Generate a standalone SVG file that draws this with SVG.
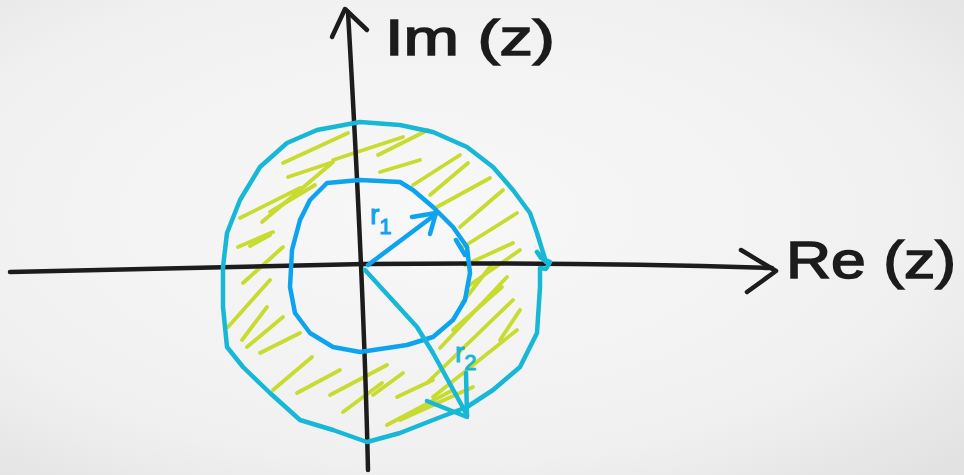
<svg xmlns="http://www.w3.org/2000/svg" width="964" height="475" viewBox="0 0 964 475">
<defs>
<radialGradient id="bg" cx="0.45" cy="0.45" r="0.75">
<stop offset="0" stop-color="#f8f8f8"/>
<stop offset="0.7" stop-color="#f0f0f0"/>
<stop offset="1" stop-color="#e2e2e2"/>
</radialGradient>
<style>
.ax{fill:none;stroke:#1c1c1c;stroke-width:4.5;stroke-linecap:round;stroke-linejoin:round}
.outer{fill:none;stroke:#17b7d6;stroke-width:4.5;stroke-linecap:round;stroke-linejoin:round}
.inner{fill:none;stroke:#0ea3ef;stroke-width:4.5;stroke-linecap:round;stroke-linejoin:round}
.h{fill:none;stroke:#c8db2f;stroke-width:3.8;stroke-linecap:round}
.lbl{font-family:"Liberation Sans","DejaVu Sans",sans-serif;fill:#1c1c1c;stroke:#1c1c1c;stroke-width:1.5}
.r1{font-family:"Liberation Sans","DejaVu Sans",sans-serif;fill:#0ea3ef;stroke:#0ea3ef;stroke-width:1}
.r2{font-family:"Liberation Sans","DejaVu Sans",sans-serif;fill:#17b7d6;stroke:#17b7d6;stroke-width:1}
</style>
</defs>
<rect width="964" height="475" fill="url(#bg)"/>

<g id="hatching">
<path class="h" d="M283,163 L348,133"/>
<path class="h" d="M288,177 L333,162"/>
<path class="h" d="M240,218 L300,188"/>
<path class="h" d="M262,222 L332,163"/>
<path class="h" d="M270,212 L315,185"/>
<path class="h" d="M238,247 L273,232"/>
<path class="h" d="M250,246 L270,235"/>
<path class="h" d="M333,160 L403,137"/>
<path class="h" d="M378,155 L428,130"/>
<path class="h" d="M380,172 L420,160"/>
<path class="h" d="M413,185 L460,155"/>
<path class="h" d="M430,195 L468,163"/>
<path class="h" d="M437,207 L490,178"/>
<path class="h" d="M460,227 L503,190"/>
<path class="h" d="M463,247 L517,213"/>
<path class="h" d="M465,265 L513,243"/>
<path class="h" d="M462,303 L493,263"/>
<path class="h" d="M467,287 L520,250"/>
<path class="h" d="M440,348 L507,277"/>
<path class="h" d="M453,330 L502,287"/>
<path class="h" d="M500,340 L520,310"/>
<path class="h" d="M427,383 L513,300"/>
<path class="h" d="M433,397 L517,330"/>
<path class="h" d="M387,425 L453,390"/>
<path class="h" d="M400,420 L473,387"/>
<path class="h" d="M397,397 L433,380"/>
<path class="h" d="M343,412 L382,383"/>
<path class="h" d="M330,395 L387,365"/>
<path class="h" d="M297,393 L340,370"/>
<path class="h" d="M273,390 L312,357"/>
<path class="h" d="M260,353 L300,333"/>
<path class="h" d="M247,347 L283,317"/>
<path class="h" d="M242,340 L267,307"/>
<path class="h" d="M228,327 L270,280"/>
<path class="h" d="M243,283 L283,247"/>
<path class="h" d="M373,395 L403,373"/>
</g>

<g id="axes">
<path id="im-axis" class="ax" d="M348,12 Q356,150 361,265 Q366,380 368,470"/>
<path class="ax" d="M332,37 L345,9 L367,30"/>
<path id="re-axis" class="ax" d="M10,272 Q200,268 365,264 Q580,262 772,268"/>
<path class="ax" d="M741,250 L776,271 L747,292"/>
</g>

<g id="outer-circle">
<path class="outer" d="M360,122 L400,125 L433,132 L467,147 L493,167 L513,190 L530,213 L537,233 L546,262 L537,252 L541,258 L550,262 L546,269 L540,268 L540,287 L537,333 L520,367 L493,390 L467,407 L433,420 L400,433 L367,442 L333,430 L300,420 L270,393 L243,367 L227,347 L223,307 L223,267 L227,233 L240,200 L260,167 L287,143 L317,130 Z"/>
</g>

<g id="inner-circle">
<path class="inner" d="M327,183 L360,180 L400,182 L413,190 L433,207 L453,227 L467,247 L470,273 L465,300 L453,320 L433,337 L407,345 L387,348 L360,352 L333,347 L310,333 L295,313 L290,287 L292,250 L300,220 L310,200 Z"/>
<path class="inner" d="M456,240 L465,255" stroke-width="7"/>
</g>

<g id="connectors">
<path id="r1-arrow" class="inner" d="M368,265 L436,214"/>
<path class="inner" d="M412,217 L436,213 L430,234"/>
<path id="r2-arrow" class="outer" d="M365,270 L417,327 L433,353 L467,415"/>
<path class="outer" d="M466,373 L467,417 L427,401"/>
</g>

<g id="labels">
<text class="lbl" x="385" y="55" font-size="50" textLength="170" lengthAdjust="spacingAndGlyphs">Im (z)</text>
<text class="lbl" x="786" y="278" font-size="52" textLength="170" lengthAdjust="spacingAndGlyphs">Re (z)</text>
<text class="r1" x="370" y="224" font-size="28">r<tspan font-size="22" dy="10">1</tspan></text>
<text class="r2" x="455" y="362" font-size="28">r<tspan font-size="22" dy="8">2</tspan></text>
</g>
</svg>
